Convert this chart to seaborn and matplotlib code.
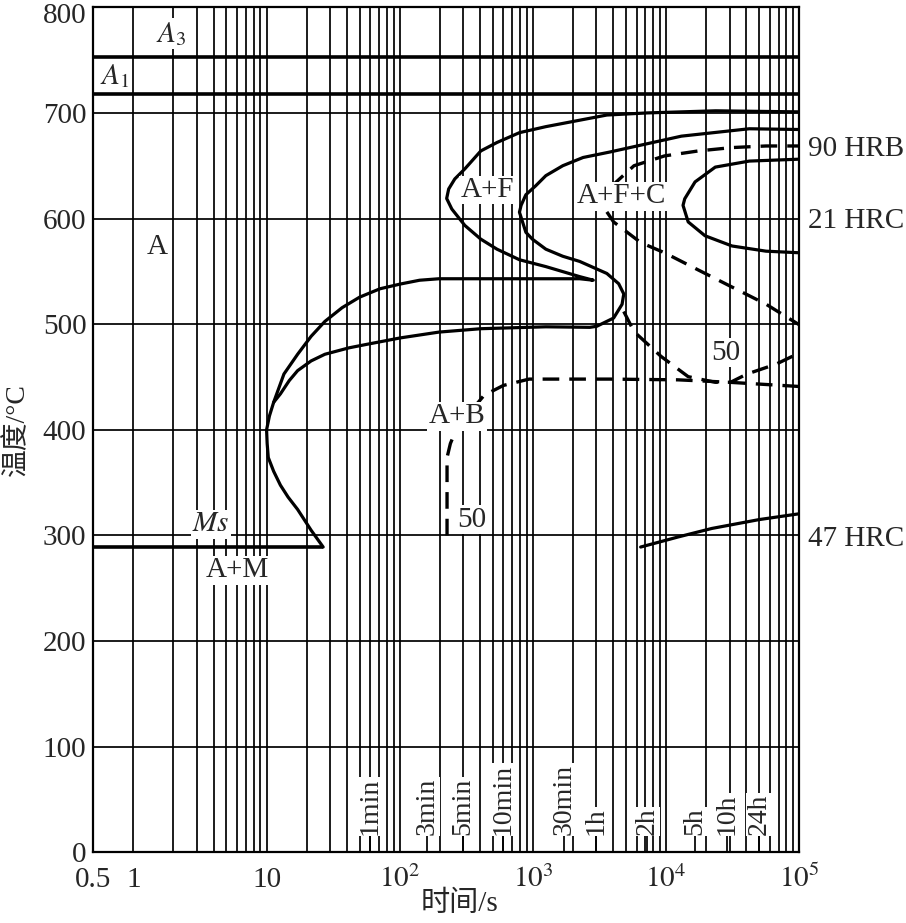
import matplotlib
matplotlib.use('Agg')
import matplotlib.pyplot as plt
from matplotlib.transforms import ScaledTranslation
import seaborn as sns

# --- values (time in s, temperature in degC) ---
A3_temp = 753
A1_temp = 718
ms_temp = 289
ms_end_time = 26.6

# ferrite start curve, turning back along the upper bainite curve down to Ms
outer_time = [1e5, 23550, 7240, 3590, 1250, 792, 537, 406, 308, 259,
              233, 225, 246, 308, 406, 537, 792, 1250, 2245, 2840,
              2245, 406, 197, 141, 101, 71, 50, 36.9, 27.4, 21.6,
              17.1, 13.5, 11.3, 10.5, 10, 10.1, 10.3, 11.3, 12.7, 14.5,
              17.1, 21.6, 26.6]
outer_temp = [701, 702, 700, 698, 687, 681.3, 672, 664, 647, 637.5,
              628, 619, 609, 593.5, 580.5, 571, 561, 554.5, 545, 541.6,
              543, 543, 543, 541.6, 538, 533.5, 525.6, 515.6, 502.6, 488.5,
              471.5, 452.8, 426, 413, 400, 387, 373.7, 360.7, 347.6, 336.3,
              324.6, 304.9, 289]

# second ferrite curve with pearlite nose, turning into the lower bainite curve
inner_time = [1e5, 42100, 13020, 3785, 2380, 1675, 1250, 1049, 885, 815,
              792, 885, 990, 1250, 1675, 2245, 3590, 4405, 4810, 4670,
              4035, 3015, 2675, 1250, 406, 197, 101, 56, 41.6, 27.4,
              21.6, 17.1, 14.8, 12.7, 11.3]
inner_temp = [684.3, 685, 678, 663, 657.8, 650, 640.6, 631, 622.5, 612.5,
              606, 587, 580.5, 571, 564.3, 559.4, 548, 538.3, 528.6, 518.8,
              505.8, 498, 497, 497.5, 495.7, 492.5, 487, 480.8, 477.6, 471.5,
              465.2, 456, 446.6, 434, 426]

# pearlite C curve on the right (21 HRC)
pearl_time = [1e5, 42100, 23400, 16500, 13800, 13400, 14650, 19600, 31300, 56300, 1e5]
pearl_temp = [656.2, 654.4, 648.7, 634.7, 618.7, 612.5, 596.8, 583.7, 574, 569.1, 567.6]

# dashed curves
hrb_time = [3850, 5740, 9730, 17450, 31300, 56300, 1e5]
hrb_temp = [630, 650, 659.3, 664, 667.2, 668.7, 668.7]

hrc_time = [3590, 4035, 6440, 9730, 17450, 31300, 56300, 1e5]
hrc_temp = [606.3, 596.8, 577.3, 567.6, 551.3, 535.1, 518.9, 499.4]

loop_time = [4810, 5740, 9160, 14650, 23400, 30500, 40500, 67100, 1e5]
loop_temp = [512, 493, 469.5, 450.3, 445, 445, 452.8, 462.2, 472.7]

bain50_time = [226.5, 226.5, 240, 268, 430, 600, 936, 1675, 3800, 12280, 29600, 1e5]
bain50_temp = [300, 373.7, 387, 401.6, 432.7, 442, 448, 448, 448, 447.3, 445, 441]

# 47 HRC line
hrc47_time = [6440, 12280, 22050, 50000, 1e5]
hrc47_temp = [289, 298.5, 306.6, 315, 320.5]

# time markers along the bottom
mark_time = [60, 160, 300, 600, 1700, 3000, 7200, 16500, 28600, 50000]
mark_label = ['1min', '3min', '5min', '10min', '30min', '1h', '2h', '5h', '10h', '24h']

x_ticks = [0.5, 1, 10, 100, 1000, 1e4, 1e5]
x_ticklabels = ['0.5', '1', '10', r'$10^2$', r'$10^3$', r'$10^4$', r'$10^5$']
y_ticks = list(range(0, 801, 100))

# --- plot ---
sns.set_style('white')
plt.rcParams['font.family'] = ['Liberation Serif', 'Noto Sans CJK SC']
plt.rcParams['mathtext.fontset'] = 'stix'
plt.rcParams['axes.unicode_minus'] = False

fig = plt.figure(figsize=(9.06, 9.23), dpi=100)
ax = fig.add_axes([0.1030, 0.0766, 0.7792, 0.9155])
ax.set_xscale('log')

minor = [k * 10 ** e for e in range(0, 5) for k in range(2, 10)]
ax.set_xticks(minor, minor=True)
ax.set_xticks(x_ticks)
ax.set_xticklabels(x_ticklabels)
ax.set_yticks(y_ticks)
ax.grid(which='both', color='k', lw=1.25)
ax.set_axisbelow(True)

solid = dict(color='k', lw=2.3, sort=False, estimator=None, ax=ax)
dashed = dict(color='k', lw=2.4, sort=False, estimator=None, ax=ax, linestyle=(0, (5, 3)))

sns.lineplot(x=outer_time, y=outer_temp, **solid)
sns.lineplot(x=inner_time, y=inner_temp, **solid)
sns.lineplot(x=pearl_time, y=pearl_temp, **solid)
sns.lineplot(x=hrc47_time, y=hrc47_temp, **solid)
sns.lineplot(x=hrb_time, y=hrb_temp, **dashed)
sns.lineplot(x=hrc_time, y=hrc_temp, **dashed)
sns.lineplot(x=loop_time, y=loop_temp, **dashed)
sns.lineplot(x=bain50_time, y=bain50_temp, **dashed)

ax.axhline(A3_temp, color='k', lw=2.6)
ax.axhline(A1_temp, color='k', lw=2.6)
ax.hlines(ms_temp, 0.5, ms_end_time, color='k', lw=2.6)

ax.set_xlim(0.5, 1e5)
ax.set_ylim(0, 800)

box = dict(facecolor='white', edgecolor='none', pad=1)
labels = [(r'$A_3$', 1.92, 775), (r'$A_1$', 0.726, 735), ('A', 1.50, 573),
          (r'$Ms$', 3.81, 310.5), ('A+M', 6.08, 267), ('A+F', 454, 627),
          ('A+F+C', 4590, 621), ('A+B', 268, 413), ('50', 348, 315),
          ('50', 28100, 473)]
for txt, tx, ty in labels:
    ax.text(tx, ty, txt, ha='center', va='center', fontsize=21, bbox=box, zorder=5)

for txt, ty in [('90 HRB', 665.6), ('21 HRC', 598), ('47 HRC', 297)]:
    ax.text(1.012, ty, txt, transform=ax.get_yaxis_transform(), ha='left',
            va='center', fontsize=21, clip_on=False)

ax.vlines(mark_time, 0, 16, color='k', lw=1.25)
for t, lab in zip(mark_time, mark_label):
    ax.text(t, 16, lab, rotation=90, ha='center', va='bottom', fontsize=20,
            bbox=dict(facecolor='white', edgecolor='none', pad=0.5), zorder=5)

ax.tick_params(axis='both', length=0, labelsize=21)
ax.tick_params(axis='y', pad=5)
ax.tick_params(axis='x', pad=25)
for lab in ax.get_xticklabels():
    lab.set_va('baseline')
# the top label sits a little lower than its grid line, as in the source
top_lab = ax.get_yticklabels()[-1]
top_lab.set_transform(top_lab.get_transform() + ScaledTranslation(0, -4 / 72, fig.dpi_scale_trans))

for sp in ax.spines.values():
    sp.set_color('k')
    sp.set_linewidth(1.6)

ax.set_ylabel('温度/°C', fontsize=20)
ax.yaxis.set_label_coords(-0.09, 0.5)
ax.set_xlabel('时间/s', fontsize=21)
ax.xaxis.set_label_coords(0.519, -0.046)

fig.savefig('out.png', dpi=100)
